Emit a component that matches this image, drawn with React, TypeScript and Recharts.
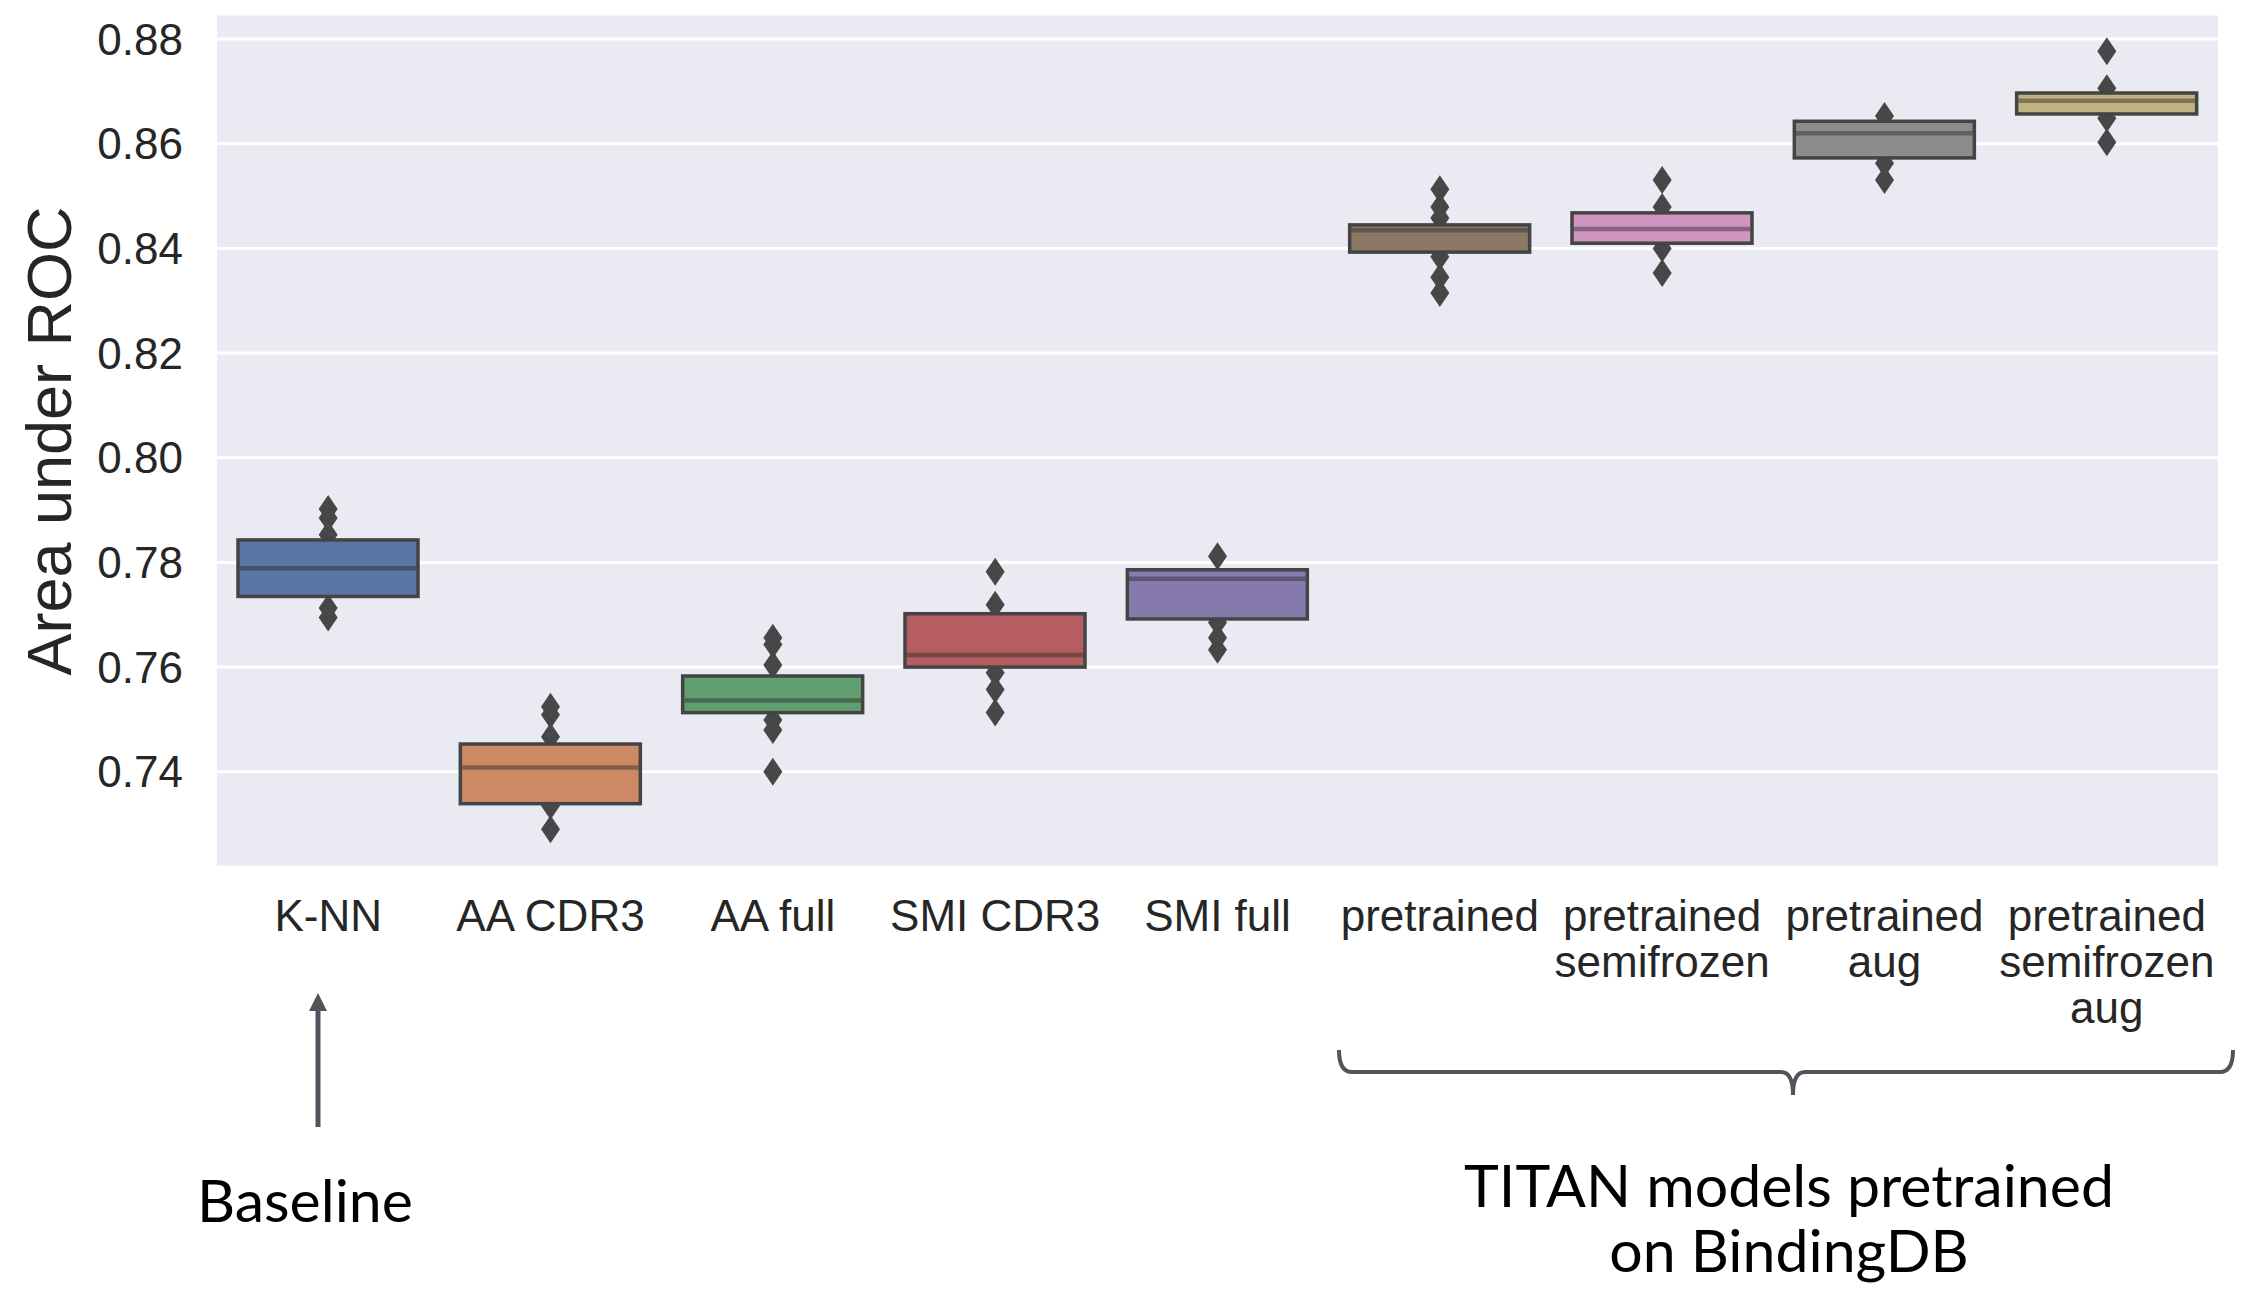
import React from 'react';
import { ComposedChart, Bar, Scatter, XAxis, YAxis, CartesianGrid } from 'recharts';

const categories = [
  'K-NN',
  'AA CDR3',
  'AA full',
  'SMI CDR3',
  'SMI full',
  'pretrained',
  'pretrained\nsemifrozen',
  'pretrained\naug',
  'pretrained\nsemifrozen\naug',
];
const q1Values = [0.7735, 0.7339, 0.7513, 0.76, 0.7692, 0.8393, 0.841, 0.8573, 0.8657];
const q3Values = [0.7843, 0.7453, 0.7583, 0.7702, 0.7786, 0.8445, 0.8468, 0.8643, 0.8697];
const medianValues = [0.7789, 0.7408, 0.7536, 0.7623, 0.7769, 0.8435, 0.8437, 0.862, 0.8682];
const outlierValues = [
  [0.7902, 0.7885, 0.7853, 0.7713, 0.7695],
  [0.7524, 0.7509, 0.7467, 0.7335, 0.729],
  [0.7656, 0.7643, 0.7604, 0.7499, 0.748, 0.74],
  [0.7782, 0.7719, 0.7589, 0.7557, 0.7513],
  [0.7812, 0.7685, 0.7656, 0.7633],
  [0.8513, 0.8479, 0.8458, 0.8384, 0.8345, 0.8315],
  [0.8531, 0.8479, 0.84, 0.8353],
  [0.8653, 0.8563, 0.8531],
  [0.8777, 0.8706, 0.8649, 0.8603],
];
const colors = ['#5875a4', '#cc8963', '#5f9e6e', '#b55d60', '#857aab', '#8d7866', '#d095bf', '#8c8c8c', '#c1b37f'];
const yTicks = [0.74, 0.76, 0.78, 0.8, 0.82, 0.84, 0.86, 0.88];
const yDomain = [0.7218, 0.8848];

const boxData = categories.map((name, i) => ({
  name,
  range: [q1Values[i], q3Values[i]],
  median: medianValues[i],
  color: colors[i],
}));

const outlierData = categories.flatMap((name, i) => outlierValues[i].map((v) => ({ name, value: v })));

const W = 2241;
const H = 1295;
const TICK_FONT = '"Liberation Sans", Arial, sans-serif';
const ANNOT_FONT = 'Lato, "Open Sans", sans-serif';

const BoxShape = (props: any) => {
  const { x, y, width, height, payload } = props;
  const [lo, hi] = payload.range;
  const my = y + ((hi - payload.median) / (hi - lo)) * height;
  return (
    <g>
      <rect x={x} y={y} width={width} height={height} fill={payload.color} stroke="#444444" strokeWidth={3.5} />
      <line x1={x + 1.75} x2={x + width - 1.75} y1={my} y2={my} stroke="#2a2a2a" strokeOpacity={0.45} strokeWidth={4.5} />
    </g>
  );
};

const Diamond = (props: any) => {
  const { cx, cy } = props;
  return <path d={`M${cx} ${cy - 14}L${cx + 9.5} ${cy}L${cx} ${cy + 14}L${cx - 9.5} ${cy}Z`} fill="#474747" />;
};

const XTick = (props: any) => {
  const { x, y, payload } = props;
  const lines = String(payload.value).split('\n');
  return (
    <text x={x} y={y} textAnchor="middle" fontFamily={TICK_FONT} fontSize={44} fill="#262626">
      {lines.map((l, i) => (
        <tspan key={i} x={x} y={y + 64 + i * 46}>
          {l}
        </tspan>
      ))}
    </text>
  );
};

export default function App() {
  return (
    <div style={{ position: 'absolute', left: 0, top: 0, width: W, height: H, background: '#ffffff' }}>
      <ComposedChart
        width={W}
        height={H}
        data={boxData}
        margin={{ top: 14, right: 23, bottom: 368, left: 0 }}
        barSize={180}
      >
        <CartesianGrid vertical={false} fill="#eaeaf2" stroke="#ffffff" strokeWidth={3} />
        <XAxis
          dataKey="name"
          type="category"
          allowDuplicatedCategory={false}
          height={60}
          axisLine={false}
          tickLine={false}
          tickSize={0}
          tickMargin={0}
          interval={0}
          tick={<XTick />}
        />
        <YAxis
          type="number"
          domain={yDomain}
          ticks={yTicks}
          allowDataOverflow
          width={217}
          axisLine={false}
          tickLine={false}
          tickSize={0}
          tickMargin={34}
          tickFormatter={(v: number) => v.toFixed(2)}
          tick={{ fontFamily: TICK_FONT, fontSize: 44, fill: '#262626' }}
        />
        <Scatter data={outlierData} dataKey="value" shape={<Diamond />} isAnimationActive={false} zIndex={250} />
        <Bar dataKey="range" shape={<BoxShape />} isAnimationActive={false} zIndex={300} />
      </ComposedChart>
      <svg width={W} height={H} style={{ position: 'absolute', left: 0, top: 0, pointerEvents: 'none' }}>
        <text
          transform="translate(71 441) rotate(-90)"
          textAnchor="middle"
          fontFamily={TICK_FONT}
          fontSize={63}
          fill="#262626"
        >
          Area under ROC
        </text>
        <line x1={318} y1={1127} x2={318} y2={1008} stroke="#50555c" strokeWidth={5} />
        <path d="M309 1011L327 1011L318 993Z" fill="#50555c" />
        <text x={305} y={1222} textAnchor="middle" fontFamily={ANNOT_FONT} fontSize={59} fill="#000000">
          Baseline
        </text>
        <path
          d="M1339 1050Q1339 1072 1352 1072L1781 1072Q1793 1072 1793 1095Q1793 1072 1805 1072L2220 1072Q2233 1072 2233 1050"
          fill="none"
          stroke="#50555c"
          strokeWidth={4}
        />
        <text x={1789} y={1207} textAnchor="middle" fontFamily={ANNOT_FONT} fontSize={59} fill="#000000">
          TITAN models pretrained
        </text>
        <text x={1789} y={1272} textAnchor="middle" fontFamily={ANNOT_FONT} fontSize={59} fill="#000000">
          on BindingDB
        </text>
      </svg>
    </div>
  );
}
